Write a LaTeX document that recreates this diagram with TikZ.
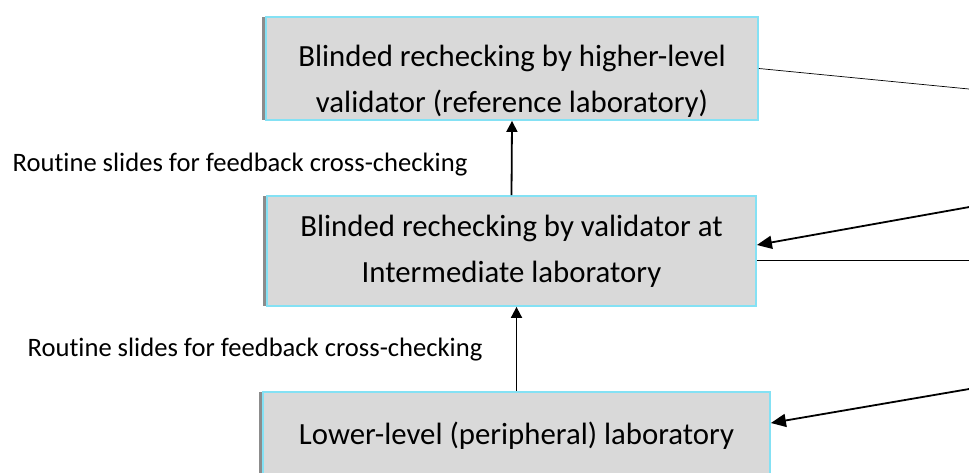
\documentclass[tikz,border=0pt]{standalone}
\usepackage{fontspec}
\setmainfont{Carlito}[Ligatures=NoCommon]
\usetikzlibrary{shadows,arrows.meta}
\definecolor{boxgray}{HTML}{D9D9D9}
\definecolor{boxcyan}{HTML}{84E1F4}

\begin{document}
\begin{tikzpicture}[x=1pt,y=-1pt]
            \tikzstyle{level}=[rectangle, inner sep=0pt, line width=1.8pt, draw=boxcyan, fill=boxgray, align=center, font=\fontsize{30.8}{46}\selectfont, drop shadow={shadow xshift=-4pt, shadow yshift=0pt, fill=black!45, opacity=1}]
            \tikzstyle{routine}=[font=\fontsize{26.6}{30}\selectfont]
            \tikzstyle{up}=[line width=1.8pt, -{Triangle[length=11pt, width=11pt]}]
            \tikzstyle{feed}=[line width=1.8pt, -{Triangle[length=15pt, width=13pt]}]
            \tikzstyle{connect}=[line width=0.7pt]
            \useasboundingbox (0,0) rectangle (969,473);
            \node[level, minimum width=492, minimum height=103] (higher) at (512,68.5){\rule{0pt}{46pt}Blinded rechecking by higher-level\\validator (reference laboratory)};
            \node[level, minimum width=489, minimum height=110] (inter) at (511.5,251){Blinded rechecking by validator at\\Intermediate laboratory};
            \node[level, minimum width=507, minimum height=88] (lower) at (516.5,436){Lower-level (peripheral) laboratory};
            \node[routine] (slides1) at (240,165){Routine slides for feedback cross-checking};
            \node[routine] (slides2) at (255,350){Routine slides for feedback cross-checking};
            \coordinate (out1) at (975,89.6);
            \coordinate (out2) at (975,206);
            \coordinate (out3) at (975,260);
            \coordinate (out4) at (975,388);
            \path[-] (inter.north) edge [up] (higher.south);
            \path[-] (lower.north) edge [up] (lower.north |- inter.south);
            \path[-] (higher.east) edge [connect] (out1);
            \path[-] (out2) edge [feed] ([yshift=6pt]inter.east);
            \path[-] ([yshift=-9pt]inter.east) edge [connect] (out3);
            \path[-] (out4) edge [feed] ([yshift=13pt]lower.east);
        \end{tikzpicture}
\end{document}
